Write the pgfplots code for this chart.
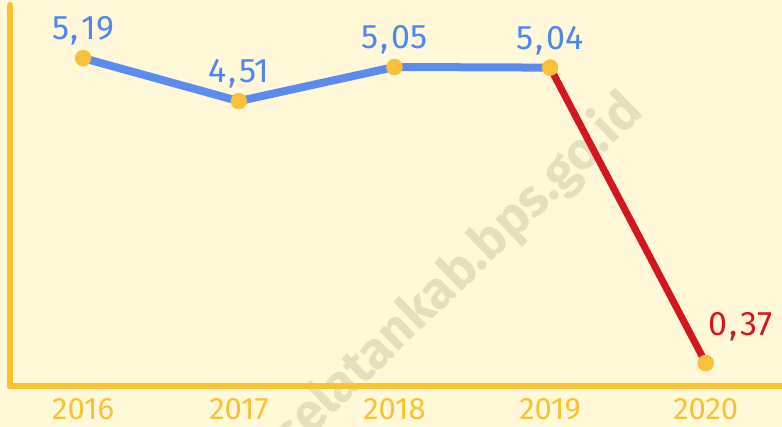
\documentclass[border=0pt]{standalone}
\usepackage{pgfplots}
\pgfplotsset{compat=1.18}
\usepackage{fontspec}
\setmainfont{Fira Sans}
\newfontfamily\wmfont{Fira Sans}
\definecolor{bgc}{HTML}{FFF9DA}
\definecolor{axc}{HTML}{F8C232}
\definecolor{lblue}{HTML}{5B8BEF}
\definecolor{tblue}{HTML}{4F86F0}
\definecolor{lred}{HTML}{D4161D}
\definecolor{mk}{HTML}{F7BF3A}
\definecolor{wm}{HTML}{E6DFBC}
\newcommand{\cm}{\kern1.5bp,\kern3bp}
\begin{document}
\begin{tikzpicture}
\fill[bgc] (0,0) rectangle (782bp,427bp);
\node[rotate=44, anchor=east, text=wm, font=\wmfont\bfseries\fontsize{52bp}{56bp}\selectfont, inner sep=0pt] at (634bp,324bp) {selatankab.bps.go.id};
\begin{axis}[
  at={(10bp,40.6bp)}, anchor=south west,
  scale only axis, width=772bp, height=381.4bp,
  xmin=2015.53, xmax=2020.49, ymin=0, ymax=6.03,
  axis x line=bottom, axis y line=left,
  axis line style={-, line width=6bp, color=axc, line cap=round},
  xtick={2016,2017,2018,2019,2020},
  xticklabels={2016,2017,2018,2019,2020},
  major tick length=0pt,
  ytick=\empty,
  xticklabel style={anchor=center, yshift=-23bp, text=axc, font=\fontsize{31bp}{34bp}\selectfont},
  /pgf/number format/assume math mode=true,
  clip=false,
]
\addplot[lblue, line width=8bp, no marks, line join=round] coordinates {(2016,5.19)(2017,4.51)(2018,5.05)(2019,5.04)};
\addplot[lred, line width=7bp, no marks, line cap=round] coordinates {(2019,5.04)(2020,0.37)};
\addplot[only marks, mark=*, mark size=8bp, mark options={fill=mk, draw=mk},
  nodes near coords, point meta=explicit symbolic,
  every node near coord/.style={anchor=center, yshift=27bp, text=tblue, font=\fontsize{34bp}{37bp}\selectfont}]
  coordinates {(2016,5.19)[5\cm19] (2017,4.51)[4\cm51] (2018,5.05)[5\cm05] (2019,5.04)[5\cm04]};
\addplot[only marks, mark=*, mark size=8bp, mark options={fill=mk, draw=mk},
  nodes near coords, point meta=explicit symbolic,
  every node near coord/.style={anchor=center, xshift=35bp, yshift=36bp, text=lred, font=\fontsize{34bp}{37bp}\selectfont}]
  coordinates {(2020,0.37)[0\cm37]};
\end{axis}
\pgfresetboundingbox
\useasboundingbox (0,0) rectangle (782bp,427bp);
\end{tikzpicture}
\end{document}
